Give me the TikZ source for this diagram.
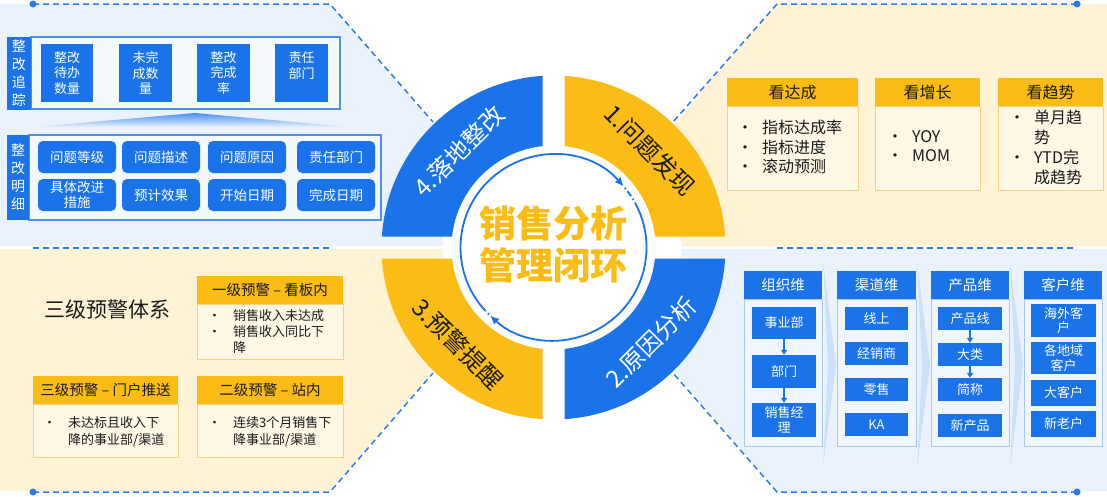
\documentclass[tikz,border=0pt]{standalone}
\usepackage{fontspec}
\setmainfont{Noto Sans CJK SC}
\usetikzlibrary{arrows.meta,shapes.geometric}
\definecolor{qblue}{HTML}{1A73E8}
\definecolor{qyellow}{HTML}{FBBC15}
\definecolor{lblue}{HTML}{EAF3FD}
\definecolor{lyellow}{HTML}{FEF3D4}
\definecolor{dblue}{HTML}{2F7BE6}
\definecolor{cardline}{HTML}{F3D37E}
\definecolor{colline}{HTML}{A9C7F0}
\definecolor{colfill}{HTML}{F0F6FE}
\definecolor{txt}{HTML}{1A1A1A}
\newcommand\bulitem{\makebox[25pt][l]{•}}
\newcommand\bulcont{\hspace*{25pt}}
\begin{document}
\begin{tikzpicture}[x=1pt,y=-1pt,
 bx/.style={fill=qblue, text=white, inner sep=0pt, align=center, font=\fontsize{13}{15.5}\selectfont},
 rbx/.style={bx, rounded corners=5pt, font=\fontsize{13.5}{15}\selectfont},
 tlframe/.style={draw=dblue!85, line width=1.1pt, fill=lblue!50!white},
 vlab/.style={fill=qblue, text=white, inner sep=0pt, align=center, font=\fontsize{14}{18}\selectfont},
 yhead/.style={fill=qyellow, text=txt, inner sep=0pt},
 ybody/.style={fill=lyellow!60!white, draw=cardline, line width=0.8pt, inner sep=0pt},
 btxt/.style={anchor=north west, inner sep=0pt, align=left, text=txt},
 dline/.style={draw=dblue, line width=1.5pt, dash pattern=on 6pt off 4pt},
 ddot/.style={circle, fill=dblue, inner sep=0pt, minimum size=7pt},
 chead/.style={fill=qblue, text=white, inner sep=0pt, font=\fontsize{14.5}{17}\selectfont},
 cbody/.style={fill=colfill, draw=colline, line width=0.9pt, inner sep=0pt},
 cbx/.style={bx, font=\fontsize{13}{14.5}\selectfont},
 arr/.style={draw=qblue, line width=1.4pt, -{Triangle[length=5pt,width=6pt]}},
 ringline/.style={draw=qblue, line width=1.8pt},
 qlab/.style={font=\fontsize{24}{26}\selectfont, inner sep=0pt}
]
\useasboundingbox (0,0) rectangle (1107,496);
\fill[white] (0,0) rectangle (1107,496);

% ---------- panels ----------
\fill[lblue] (0,4) -- (330,4) -- (442,135) -- (443,246) -- (0,246) -- cycle;
\fill[lyellow] (777,4) -- (1107,4) -- (1107,246) -- (682,246) -- (665,135) -- cycle;
\fill[lyellow] (0,249) -- (443,249) -- (442,360) -- (330,491) -- (0,491) -- cycle;
\fill[lblue] (682,249) -- (1107,249) -- (1107,491) -- (777,491) -- (665,360) -- cycle;

% ---------- dashed borders ----------
\node[ddot] (d1) at (33,4) {};
\node[ddot] (d2) at (1077,4) {};
\node[ddot] (d3) at (33,492) {};
\node[ddot] (d4) at (1077,492) {};
\coordinate (tla) at (330,4);  \coordinate (tlb) at (433,122);
\coordinate (tra) at (777,4);  \coordinate (trb) at (673,122);
\coordinate (bla) at (330,492);\coordinate (blb) at (433,373);
\coordinate (bra) at (777,492);\coordinate (brb) at (673,373);
\coordinate (bl1) at (33,248); \coordinate (bl2) at (330,248);
\coordinate (br1) at (777,248);\coordinate (br2) at (1077,248);
\draw[dline] (d1.center) -- (tla) -- (tlb);
\draw[dline] (d2.center) -- (tra) -- (trb);
\draw[dline] (d3.center) -- (bla) -- (blb);
\draw[dline] (d4.center) -- (bra) -- (brb);
\draw[dline] (bl1) -- (bl2);
\draw[dline] (br1) -- (br2);

% ---------- ring ----------
\coordinate (c) at (553.5,247.5);
\fill[qyellow] ([shift={(c)}]-86.33:172) arc[start angle=-86.33,end angle=-3.67,radius=172]
  -- ([shift={(c)}]-6.19:102) arc[start angle=-6.19,end angle=-83.81,radius=102] -- cycle;
\fill[qblue] ([shift={(c)}]3.67:172) arc[start angle=3.67,end angle=86.33,radius=172]
  -- ([shift={(c)}]83.81:102) arc[start angle=83.81,end angle=6.19,radius=102] -- cycle;
\fill[qyellow] ([shift={(c)}]93.67:172) arc[start angle=93.67,end angle=176.33,radius=172]
  -- ([shift={(c)}]173.81:102) arc[start angle=173.81,end angle=96.19,radius=102] -- cycle;
\fill[qblue] ([shift={(c)}]183.67:172) arc[start angle=183.67,end angle=266.33,radius=172]
  -- ([shift={(c)}]263.81:102) arc[start angle=263.81,end angle=186.19,radius=102] -- cycle;

\draw[ringline, -{Latex[length=9pt,width=8pt]}] ([shift={(c)}]140:93) arc[start angle=140,end angle=319,radius=93];
\draw[ringline, -{Latex[length=9pt,width=8pt]}] ([shift={(c)}]-28:93) arc[start angle=-28,end angle=133,radius=93];
\draw[ringline, dash pattern=on 1.5pt off 3pt on 6pt off 3pt] ([shift={(c)}]320:93) arc[start angle=320,end angle=332,radius=93];
\draw[ringline, dash pattern=on 1.5pt off 3pt on 6pt off 3pt] ([shift={(c)}]134:93) arc[start angle=134,end angle=140,radius=93];

\node[font=\fontsize{37}{42}\selectfont\bfseries, text=qyellow, align=center, inner sep=0pt] (title) at (553.5,244) {销售分析\\管理闭环};
\node[qlab, rotate=-45, text=txt] (q1t) at (650,150) {1.问题发现};
\node[qlab, rotate=45, text=white] (q2t) at (651,342) {2.原因分析};
\node[qlab, rotate=-45, text=txt] (q3t) at (458,344) {3.预警提醒};
\node[qlab, rotate=45, text=white] (q4t) at (459,151) {4.落地整改};

% ---------- top-left: 整改 ----------
\node[tlframe, minimum width=309pt, minimum height=72pt, inner sep=0pt] (f1) at (185.5,73) {};
\node[vlab, minimum width=24pt, minimum height=73pt] (v1) at (19,73.5) {整\\改\\追\\踪};
\node[bx, minimum width=52pt, minimum height=58pt] (t1) at (67,73) {整改\\待办\\数量};
\node[bx, minimum width=53pt, minimum height=58pt] (t2) at (145.5,73) {未完\\成数\\量};
\node[bx, minimum width=53pt, minimum height=58pt] (t3) at (223.5,73) {整改\\完成\\率};
\node[bx, minimum width=53pt, minimum height=58pt] (t4) at (301.5,73) {责任\\部门\\~};
\shade[top color=qblue!80, bottom color=lblue] (33,127) -- (195,113) -- (350,127) -- cycle;
\node[tlframe, minimum width=352pt, minimum height=85pt, inner sep=0pt] (f2) at (205,177.5) {};
\node[vlab, minimum width=22pt, minimum height=85pt] (v2) at (18,177.5) {整\\改\\明\\细};
\node[rbx, minimum width=78pt, minimum height=32pt] (m1) at (77,157) {问题等级};
\node[rbx, minimum width=78pt, minimum height=32pt] (m2) at (161,157) {问题描述};
\node[rbx, minimum width=78pt, minimum height=32pt] (m3) at (247,157) {问题原因};
\node[rbx, minimum width=78pt, minimum height=32pt] (m4) at (336,157) {责任部门};
\node[rbx, minimum width=78pt, minimum height=32pt] (m5) at (77,195) {具体改进\\措施};
\node[rbx, minimum width=78pt, minimum height=32pt] (m6) at (161,195) {预计效果};
\node[rbx, minimum width=78pt, minimum height=32pt] (m7) at (247,195) {开始日期};
\node[rbx, minimum width=78pt, minimum height=32pt] (m8) at (336,195) {完成日期};

% ---------- top-right: 看 ----------
\node[ybody, minimum width=131pt, minimum height=84pt] (kb1) at (792.5,148) {};
\node[ybody, minimum width=105pt, minimum height=84pt] (kb2) at (927.5,148) {};
\node[ybody, minimum width=105pt, minimum height=84pt] (kb3) at (1050.5,148) {};
\node[yhead, minimum width=131pt, minimum height=28pt, font=\fontsize{16}{19}\selectfont] (kh1) at (792.5,92) {看达成};
\node[yhead, minimum width=105pt, minimum height=28pt, font=\fontsize{16}{19}\selectfont] (kh2) at (927.5,92) {看增长};
\node[yhead, minimum width=105pt, minimum height=28pt, font=\fontsize{16}{19}\selectfont] (kh3) at (1050.5,92) {看趋势};
\node[btxt, font=\fontsize{16}{19.5}\selectfont] (kt1) at (737,120) {\bulitem 指标达成率\\\bulitem 指标进度\\\bulitem 滚动预测};
\node[btxt, font=\fontsize{16}{19.5}\selectfont] (kt2) at (887,130) {\bulitem YOY\\\bulitem MOM};
\node[btxt, font=\fontsize{16}{20}\selectfont] (kt3) at (1009,110) {\bulitem 单月趋\\\bulcont 势\\\bulitem YTD完\\\bulcont 成趋势};

% ---------- bottom-left: 预警 ----------
\node[font=\fontsize{21}{24}\selectfont, text=txt, inner sep=0pt] (wt) at (107,310) {三级预警体系};
\node[ybody, minimum width=146pt, minimum height=55pt] (wb1) at (270,331.5) {};
\node[yhead, minimum width=146pt, minimum height=28pt, font=\fontsize{14.5}{17}\selectfont] (wh1) at (270,290) {一级预警 – 看板内};
\node[btxt, font=\fontsize{13}{16}\selectfont] (wx1) at (208,309.5) {\bulitem 销售收入未达成\\\bulitem 销售收入同比下\\\bulcont 降};
\node[ybody, minimum width=145pt, minimum height=53pt] (wb3) at (105.5,430.5) {};
\node[yhead, minimum width=145pt, minimum height=28pt, font=\fontsize{14.5}{17}\selectfont] (wh3) at (105.5,390) {三级预警 – 门户推送};
\node[btxt, font=\fontsize{13}{16.5}\selectfont] (wx3) at (43,416.5) {\bulitem 未达标且收入下\\\bulcont 降的事业部/渠道};
\node[ybody, minimum width=146pt, minimum height=53pt] (wb2) at (270,430.5) {};
\node[yhead, minimum width=146pt, minimum height=28pt, font=\fontsize{14.5}{17}\selectfont] (wh2) at (270,390) {二级预警 – 站内};
\node[btxt, font=\fontsize{13}{16.5}\selectfont] (wx2) at (208,416.5) {\bulitem 连续3个月销售下\\\bulcont 降事业部/渠道};

% ---------- bottom-right: 维度 ----------
\foreach \xx in {829,923,1016} {
  \fill[qblue!22] (\xx-6,262) -- (\xx+7,365) -- (\xx-6,468) -- (\xx-1,365) -- cycle;
}
\node[cbody, minimum width=78pt, minimum height=147pt] (cb1) at (783,372.5) {};
\node[cbody, minimum width=79pt, minimum height=147pt] (cb2) at (876.5,372.5) {};
\node[cbody, minimum width=78pt, minimum height=147pt] (cb3) at (970,372.5) {};
\node[cbody, minimum width=78pt, minimum height=147pt] (cb4) at (1063,372.5) {};
\node[chead, minimum width=78pt, minimum height=28pt] (ch1) at (783,285) {组织维};
\node[chead, minimum width=79pt, minimum height=28pt] (ch2) at (876.5,285) {渠道维};
\node[chead, minimum width=78pt, minimum height=28pt] (ch3) at (970,285) {产品维};
\node[chead, minimum width=78pt, minimum height=28pt] (ch4) at (1063,285) {客户维};

\node[cbx, minimum width=64pt, minimum height=32pt] (a1) at (784,323) {事业部};
\node[cbx, minimum width=64pt, minimum height=33pt] (a2) at (784,371.5) {部门};
\node[cbx, minimum width=64pt, minimum height=34pt] (a3) at (784,420) {销售经\\理};
\draw[arr] (a1) -- (a2);
\draw[arr] (a2) -- (a3);

\node[cbx, minimum width=63pt, minimum height=23pt] (b1) at (876.5,318.5) {线上};
\node[cbx, minimum width=63pt, minimum height=23pt] (b2) at (876.5,353.5) {经销商};
\node[cbx, minimum width=63pt, minimum height=23pt] (b3) at (876.5,389.5) {零售};
\node[cbx, minimum width=63pt, minimum height=23pt] (b4) at (876.5,424.5) {KA};

\node[cbx, minimum width=64pt, minimum height=23pt] (p1) at (970,318.5) {产品线};
\node[cbx, minimum width=64pt, minimum height=23pt] (p2) at (970,354.5) {大类};
\node[cbx, minimum width=64pt, minimum height=23pt] (p3) at (970,389.5) {简称};
\node[cbx, minimum width=64pt, minimum height=23pt] (p4) at (970,425.5) {新产品};
\draw[arr] (p1) -- (p2);
\draw[arr] (p2) -- (p3);

\node[cbx, minimum width=65pt, minimum height=33pt] (k1) at (1063.5,320.5) {海外客\\户};
\node[cbx, minimum width=65pt, minimum height=32pt] (k2) at (1063.5,358) {各地域\\客户};
\node[cbx, minimum width=65pt, minimum height=26pt] (k3) at (1063.5,393) {大客户};
\node[cbx, minimum width=65pt, minimum height=26pt] (k4) at (1063.5,424) {新老户};
\end{tikzpicture}
\end{document}
